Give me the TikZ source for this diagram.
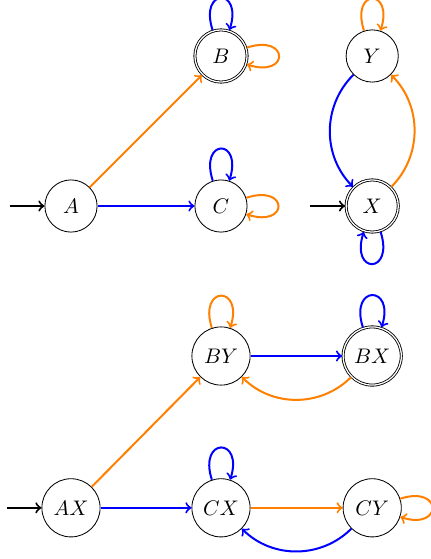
\documentclass[tikz,border=0pt]{standalone}
\usepackage{amsmath,amssymb}
\usetikzlibrary{
		automata,
		positioning
	}
\tikzset{
		>=to,
		every state/.style={draw, minimum size=0.87cm, inner sep=1pt},
		wide/.style={minimum size=0.97cm},
		initial text=,
		initial distance=0.58cm,
		every initial by arrow/.style={line width=0.95pt},
		every loop/.style={looseness=4, min distance=0.75cm},
		loop above/.style={out=108, in=72, loop},
		loop below/.style={out=-72, in=-108, loop},
		loop right/.style={out=18, in=-18, loop},
		blueline/.style={->, draw=blue, line width=0.95pt},
		orangeline/.style={->, draw=orange, line width=0.95pt}
	}

\begin{document}
\begin{tikzpicture}
        \useasboundingbox (-1.183,3.433) rectangle (6.0,-5.883);

        % the first automaton
        \node[state, initial] (A) at (0,0) {$A$};
        \node[state, accepting] (B) at (2.5,2.5) {$B$};
        \node[state] (C) at (2.5,0) {$C$};

        % the second automaton
        \node[state] (Y) at (5.02,2.5) {$Y$};
        \node[state, accepting, initial] (X) at (5.02,0) {$X$};

        % the product (here the labels are wider, so the circles get bigger)
        \node[state, wide] (BY) at (2.5,-2.5) {$BY$};
        \node[state, wide, accepting] (BX) at (5.02,-2.5) {$BX$};
        \node[state, wide, initial] (AX) at (0,-5.03) {$AX$};
        \node[state, wide] (CX) at (2.5,-5.03) {$CX$};
        \node[state, wide] (CY) at (5.02,-5.03) {$CY$};

        % draw the arrows
        \draw[orangeline] (A) -- (B);
        \draw[blueline] (A) -- (C);
        \draw[blueline] (B) to[loop above] (B);
        \draw[orangeline] (B) to[loop right] (B);
        \draw[blueline] (C) to[loop above] (C);
        \draw[orangeline] (C) to[loop right] (C);

        \draw[orangeline] (Y) to[loop above] (Y);
        \draw[blueline] (X) to[loop below] (X);
        \draw[blueline] (Y) to[bend right=45] (X);
        \draw[orangeline] (X) to[bend right=45] (Y);

        \draw[orangeline] (BY) to[loop above] (BY);
        \draw[blueline] (BX) to[loop above] (BX);
        \draw[blueline] (BY) -- (BX);
        \draw[orangeline] (BX) to[bend left=45] (BY);
        \draw[orangeline] (AX) -- (BY);
        \draw[blueline] (AX) -- (CX);
        \draw[blueline] (CX) to[loop above] (CX);
        \draw[orangeline] (CX) -- (CY);
        \draw[orangeline] (CY) to[loop right] (CY);
        \draw[blueline] (CY) to[bend left=45] (CX);

    \end{tikzpicture}
\end{document}
